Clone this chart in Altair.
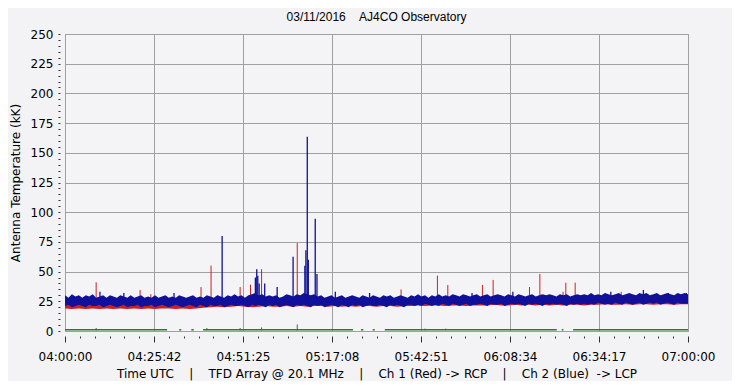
import altair as alt
import pandas as pd

# ---------------- data (minutes after 04:00:00 UTC, antenna temperature kK) ----------------
# Ch 2 (blue) noise band, one-minute envelope
t_blue = list(range(0, 181))
blue_hi = [30, 28, 31, 29, 30, 28, 30, 29, 31, 28,
           29, 30, 28, 30, 29, 28, 30, 29, 28, 30,
           28, 29, 30, 28, 29, 28, 30, 28, 29, 30,
           28, 29, 28, 30, 29, 28, 29, 30, 28, 29,
           28, 30, 29, 28, 30, 29, 28, 30, 29, 31,
           29, 30, 28, 30, 31, 32, 30, 31, 29, 30,
           29, 30, 28, 29, 31, 30, 29, 31, 30, 32,
           31, 30, 31, 29, 30, 28, 29, 30, 28, 29,
           30, 28, 29, 30, 29, 28, 30, 29, 28, 30,
           29, 28, 30, 29, 30, 28, 29, 30, 29, 28,
           30, 29, 31, 29, 30, 28, 30, 29, 31, 29,
           30, 29, 31, 30, 29, 31, 30, 29, 30, 31,
           29, 30, 31, 29, 30, 31, 30, 29, 31, 30,
           29, 31, 30, 29, 30, 31, 29, 30, 31, 30,
           31, 30, 29, 31, 30, 31, 29, 30, 31, 30,
           31, 30, 32, 30, 31, 30, 32, 31, 30, 31,
           32, 30, 31, 32, 31, 30, 32, 31, 32, 30,
           31, 32, 30, 31, 32, 31, 30, 32, 31, 32,
           31]
blue_lo = [21, 22, 20, 21, 22, 21, 20, 22, 21, 21,
           22, 20, 21, 22, 21, 20, 21, 22, 20, 21,
           21, 22, 20, 21, 21, 22, 20, 21, 22, 21,
           20, 21, 22, 21, 20, 21, 22, 21, 20, 22,
           21, 20, 22, 21, 21, 22, 20, 21, 22, 21,
           21, 22, 21, 20, 22, 21, 22, 21, 20, 22,
           21, 22, 20, 21, 22, 21, 20, 22, 21, 22,
           21, 20, 22, 21, 22, 20, 21, 22, 21, 20,
           22, 21, 20, 22, 21, 22, 20, 21, 22, 21,
           21, 22, 21, 20, 22, 21, 22, 21, 20, 22,
           22, 21, 22, 21, 23, 22, 21, 22, 21, 23,
           22, 21, 23, 22, 21, 22, 23, 21, 22, 22,
           23, 22, 21, 23, 22, 22, 23, 21, 22, 23,
           22, 23, 22, 21, 23, 22, 23, 22, 21, 23,
           22, 23, 22, 23, 22, 21, 23, 22, 23, 22,
           23, 22, 23, 22, 24, 23, 22, 23, 22, 24,
           23, 22, 24, 23, 22, 23, 24, 22, 23, 24,
           23, 24, 22, 23, 24, 23, 22, 24, 23, 23,
           23]

# Ch 1 (red) noise band, two-minute envelope
t_red = list(range(0, 181, 2))
red_hi = [26, 25, 26, 26, 25, 26, 25, 26, 26, 25, 26,
          25, 26, 25, 26, 26, 25, 26, 25, 26, 25,
          26, 25, 26, 26, 25, 26, 26, 25, 26, 26,
          26, 26, 25, 26, 26, 27, 26, 26, 25, 26,
          26, 26, 27, 26, 26, 26, 27, 26, 26, 27,
          27, 26, 27, 27, 26, 27, 27, 26, 27, 27,
          27, 27, 26, 27, 27, 28, 27, 27, 27, 28,
          27, 28, 28, 27, 28, 28, 27, 28, 28, 27,
          28, 28, 27, 28, 28, 29, 28, 28, 28, 28]
red_lo = [19, 18.5, 19, 18.5, 19, 18.5, 19, 18.5, 19, 18.5, 19,
          18.5, 19, 18.5, 19, 19, 18.5, 19, 18.5, 19, 19.5,
          20, 20.5, 20, 20.5, 21, 20.5, 20, 20.5, 21, 20.5,
          20.5, 21, 20.5, 21, 20.5, 21, 21, 20.5, 21, 20.5,
          21, 20.5, 21, 21, 20.5, 21, 21, 20.5, 21, 21,
          21.5, 21, 21.5, 21.5, 21, 21.5, 21.5, 21, 21.5, 21.5,
          21.5, 22, 21.5, 21.5, 22, 21.5, 22, 21.5, 22, 21.5,
          22, 21.5, 22, 22, 21.5, 22, 22, 22.5, 22, 22,
          22.5, 22, 22.5, 22.5, 22, 22.5, 22.5, 22, 22.5, 22.5]

red_spike_t = [9.0, 21.7, 24.8, 39.3, 42.2, 44.2, 50.6, 53.6, 56.8, 67.1, 97.1,
               107.6, 110.6, 120.6, 123.7, 134.2, 137.2, 143.9, 144.7, 147.4, 160.7]
red_spike_v = [41, 34.5, 31, 37, 55, 30, 37, 39, 52, 74, 35,
               46.6, 38.7, 38.7, 43, 37, 48, 33, 40.7, 40.7, 33]

blue_spike_t = [10.1, 17.0, 31.5, 45.4, 55.0, 55.4, 55.7, 56.1, 57.7, 61.3, 65.9,
                69.3, 69.6, 70.0, 70.3, 72.3, 72.8, 78.1, 88.0, 117.6, 129.4,
                157.7, 167.1, 174.3, 179.5]
blue_spike_v = [33, 32, 32, 80, 45, 52, 46.6, 40, 40, 37, 62.6,
                55, 68, 163.6, 60, 94.5, 48, 33, 32, 32, 33,
                33, 34.5, 32, 32]

green_seg_start = [0.0, 33.0, 36.5, 39.9, 85.5, 88.9, 92.4, 143.5, 146.8]
green_seg_end = [29.5, 33.6, 37.2, 83.2, 86.2, 89.5, 142.1, 144.0, 180.0]
green_level = [1, 1, 1, 1, 1, 1, 1, 1, 1]

green_spike_t = [9.0, 41.0, 50.6, 56.8, 67.1, 104.0, 110.0]
green_spike_v = [2.5, 2.5, 2.5, 3, 5.5, 2, 2]

title_text = "03/11/2016\u00a0\u00a0\u00a0\u00a0AJ4CO Observatory"
caption = ("Time UTC\u00a0\u00a0\u00a0\u00a0|\u00a0\u00a0\u00a0\u00a0TFD Array @ 20.1 MHz"
           "\u00a0\u00a0\u00a0\u00a0|\u00a0\u00a0\u00a0\u00a0Ch 1 (Red) -> RCP"
           "\u00a0\u00a0\u00a0\u00a0|\u00a0\u00a0\u00a0\u00a0Ch 2 (Blue)\u00a0\u00a0-> LCP")
y_title = "Antenna Temperature (kK)"

# ---------------- tables ----------------
benv = pd.DataFrame({"t": t_blue, "hi": blue_hi, "lo": blue_lo})
renv = pd.DataFrame({"t": t_red, "hi": red_hi, "lo": red_lo})
rs = pd.DataFrame({"t": red_spike_t, "v": red_spike_v})
bs = pd.DataFrame({"t": blue_spike_t, "v": blue_spike_v})
gseg = pd.DataFrame({"t": green_seg_start, "e": green_seg_end, "v": green_level})
gsp = pd.DataFrame({"t": green_spike_t, "v": green_spike_v})

BLUE = "#10109a"
RED = "#cc2020"
GREEN = "#2a7a2a"
GRID = "#a0a0a0"
FONT = "DejaVu Sans"

x_ticks = [k * 180 / 42 for k in range(43)]
y_ticks = list(range(0, 251, 5))

x_major = "abs(datum.value / (180/7) - round(datum.value / (180/7))) < 0.001"
y_major = "datum.value % 25 === 0"

xsc = alt.Scale(domain=[0, 180], nice=False, zero=False)
ysc = alt.Scale(domain=[0, 250], nice=False, zero=False)

x_axis = alt.Axis(
    values=x_ticks,
    title=caption,
    labelExpr=("(" + x_major + ") ? utcFormat(utc(2016, 2, 11, 4, 0, floor(datum.value * 60 + 0.001)), '%H:%M:%S') : ''"),
    labelOverlap=False,
    grid=True,
    gridColor=GRID,
    gridOpacity={"condition": {"test": x_major, "value": 1}, "value": 0},
    tickSize={"condition": {"test": x_major, "value": 6}, "value": 2},
    tickColor="#303030",
    domain=False,
    offset=5,
    labelFlush=False,
    labelPadding=9,
    labelFont=FONT,
    labelFontSize=12,
    labelColor="#000000",
    titleFont=FONT,
    titleFontSize=12,
    titleFontWeight="normal",
    titleColor="#000000",
    titlePadding=6,
)

y_axis = alt.Axis(
    values=y_ticks,
    title=y_title,
    labelExpr="(" + y_major + ") ? datum.label : ''",
    labelOverlap=False,
    grid=True,
    gridColor=GRID,
    gridOpacity={"condition": {"test": y_major, "value": 1}, "value": 0},
    tickSize=2,
    tickColor="#303030",
    domain=False,
    offset=5,
    labelPadding=5,
    labelFont=FONT,
    labelFontSize=12,
    labelColor="#000000",
    titleFont=FONT,
    titleFontSize=12,
    titleFontWeight="normal",
    titleColor="#000000",
    titlePadding=8,
)


def X(field):
    return alt.X(field, type="quantitative", scale=xsc, axis=x_axis, title=caption)


def Y(field):
    return alt.Y(field, type="quantitative", scale=ysc, axis=y_axis, title=y_title)


red_band = alt.Chart(renv).mark_area(color=RED, opacity=1).encode(
    x=X("t"), y=Y("lo"), y2="hi:Q"
)
red_sp = alt.Chart(rs).mark_rule(color=RED, strokeWidth=1).encode(
    x=X("t"), y=Y("v"), y2=alt.datum(24)
)
blue_band = alt.Chart(benv).mark_area(color=BLUE, opacity=1).encode(
    x=X("t"), y=Y("lo"), y2="hi:Q"
)
blue_sp = alt.Chart(bs).mark_rule(color=BLUE, strokeWidth=1.3).encode(
    x=X("t"), y=Y("v"), y2=alt.datum(25)
)
green_ln = alt.Chart(gseg).mark_rule(color=GREEN, strokeWidth=1.5).encode(
    x=X("t"), x2="e:Q", y=Y("v")
)
green_sp = alt.Chart(gsp).mark_rule(color=GREEN, strokeWidth=1).encode(
    x=X("t"), y=Y("v"), y2=alt.datum(0.5)
)

chart = (
    alt.layer(red_band, red_sp, blue_band, blue_sp, green_ln, green_sp)
    .properties(
        width=623,
        height=297,
        autosize=alt.AutoSizeParams(type="none"),
        padding={"left": 57, "top": 26, "right": 44, "bottom": 50},
        background="#f3f3f5",
        title=alt.TitleParams(
            text=title_text,
            font="Liberation Sans",
            fontSize=12,
            fontWeight="normal",
            color="#000000",
            anchor="middle",
            offset=4,
        ),
    )
    .configure_view(fill="#f4f4f6", stroke="#9a9a9a", strokeWidth=1)
)

chart.save("out.html", embed_options={"renderer": "svg", "actions": False})
